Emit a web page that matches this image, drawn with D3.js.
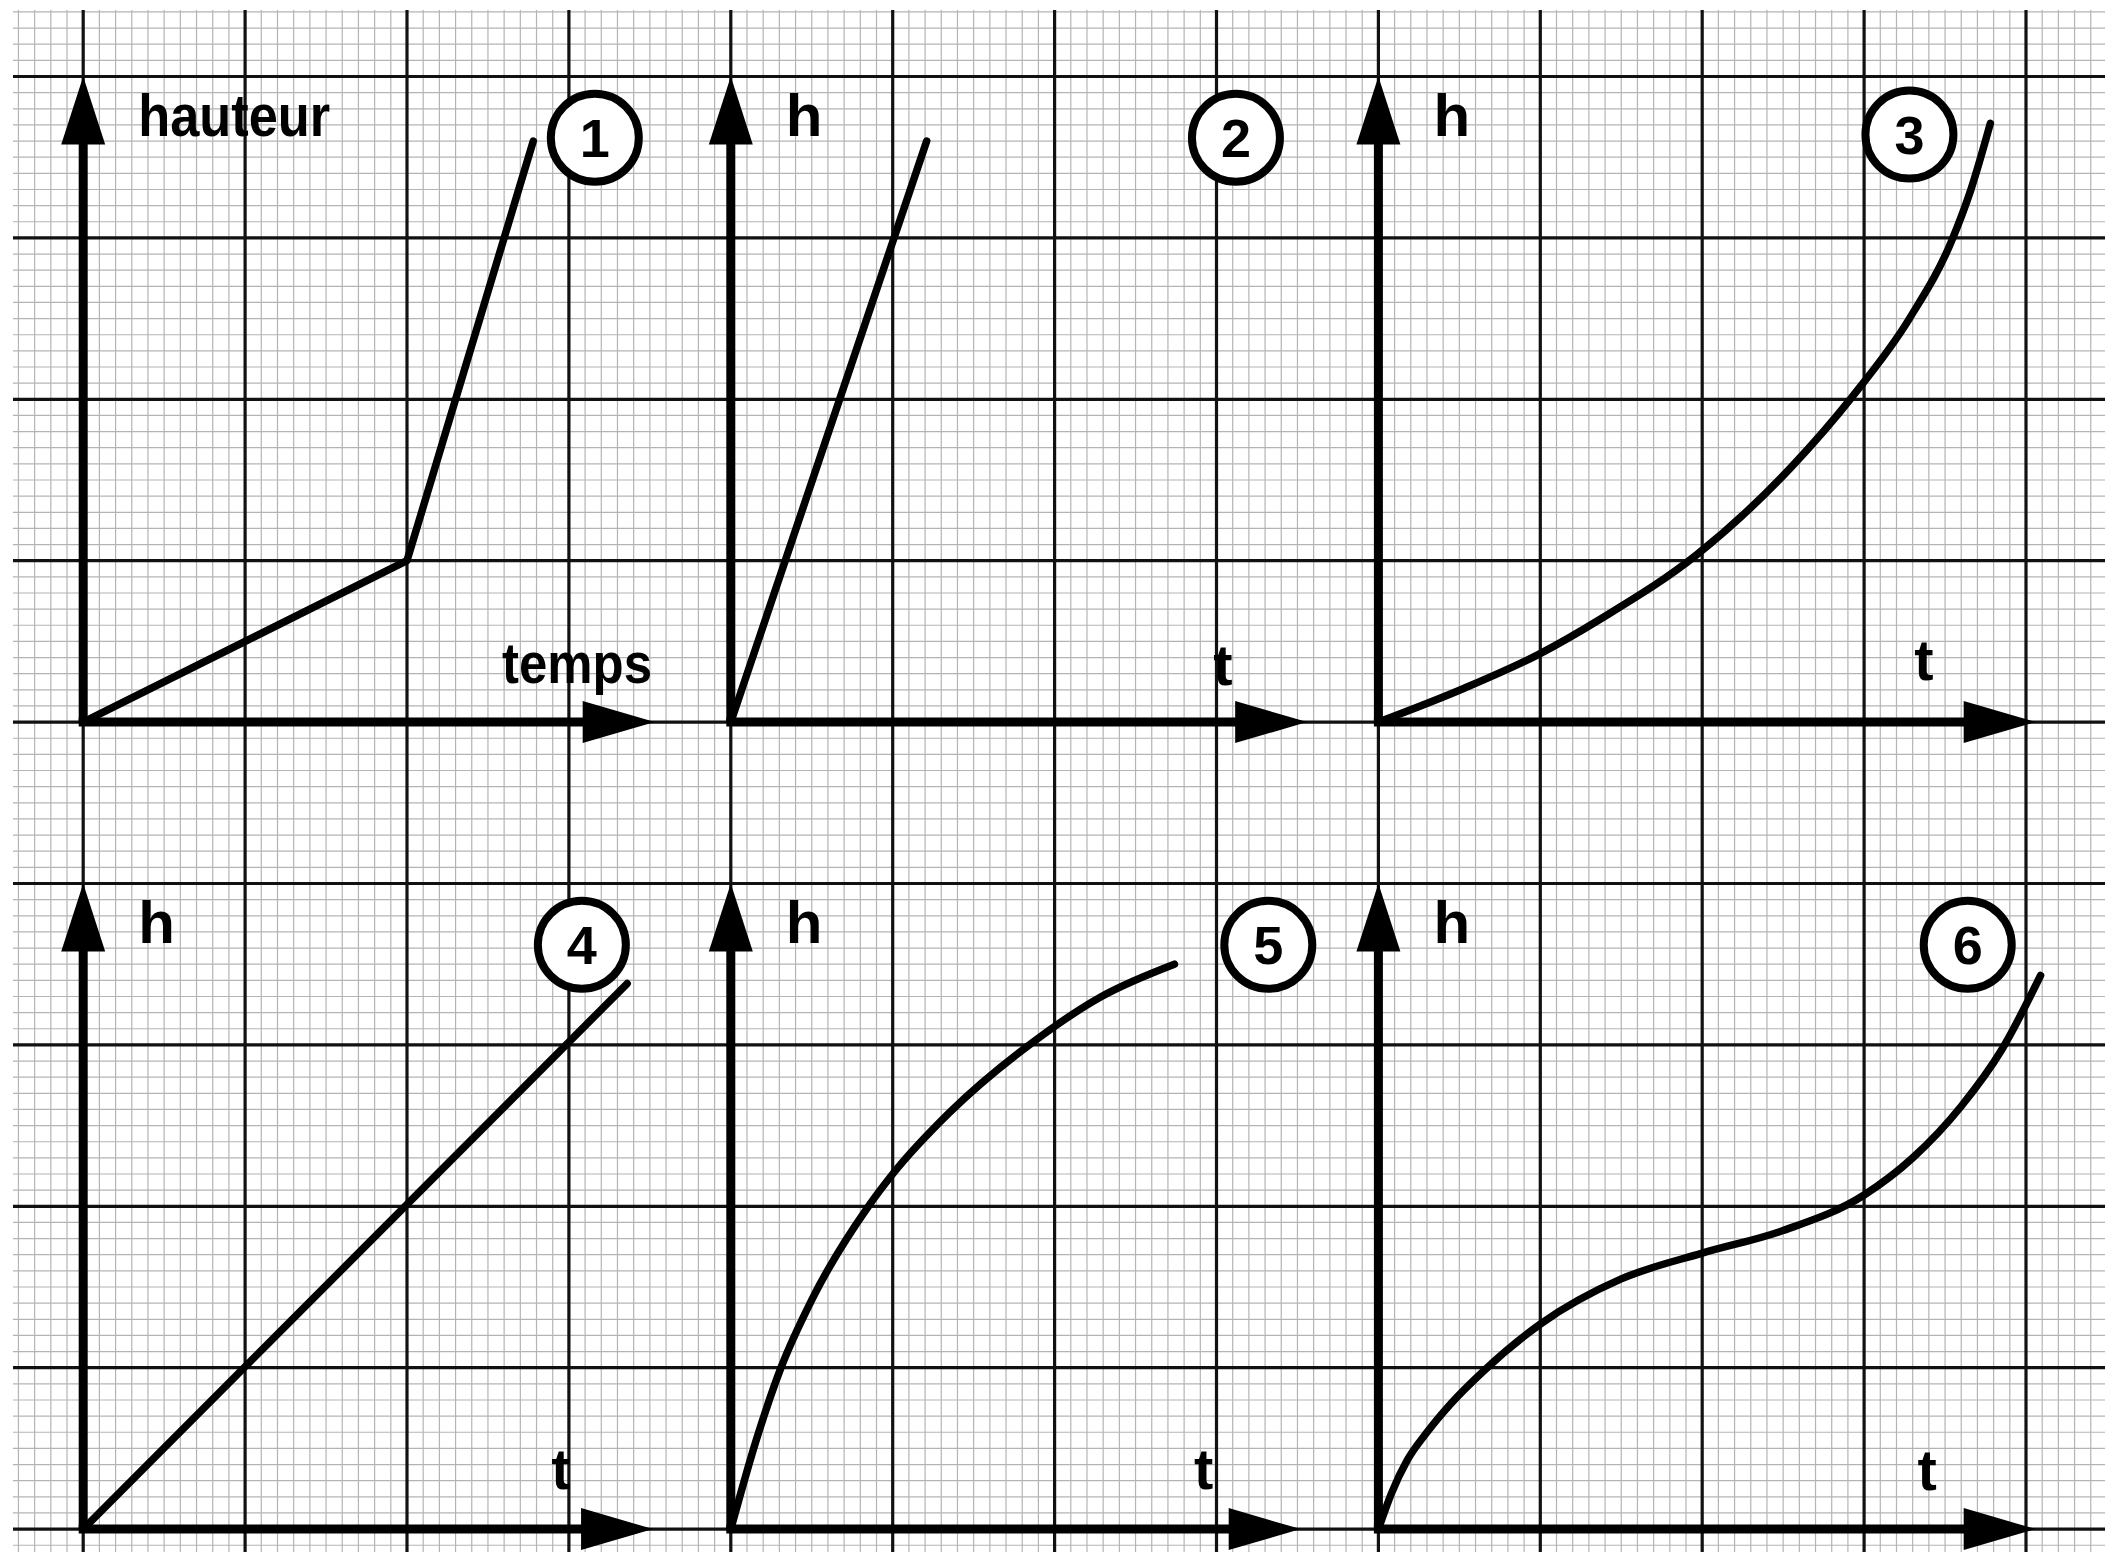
<!DOCTYPE html>
<html>
<head>
<meta charset="utf-8">
<script src="https://cdn.jsdelivr.net/npm/d3@7"></script>
<style>
  html, body { margin: 0; padding: 0; background: #fff; }
  svg { display: block; }
  text { font-family: "Liberation Sans", Arial, Helvetica, sans-serif; font-weight: bold; fill: #000; }
</style>
</head>
<body>
<svg id="chart"></svg>
<script>
const W = 2105, H = 1558;

// curves, in grid units (1 unit = one major square), from each panel's origin
const curve1 = [[0, 0], [2, 1], [2.78, 3.6]];
const curve2 = [[0, 0], [1.21, 3.6]];
const curve3 = [[0, 0], [0.53, 0.21], [0.99, 0.42], [1.39, 0.65], [1.97, 1.04], [2.55, 1.58],
                [2.93, 2.02], [3.28, 2.5], [3.54, 2.98], [3.66, 3.3], [3.78, 3.71]];
const curve4 = [[0, 0], [3.36, 3.38]];
const curve5 = [[0, 0], [0.16, 0.56], [0.31, 1.0], [0.5, 1.42], [0.85, 2.0], [1.0, 2.2],
                [1.35, 2.58], [1.87, 3.02], [2.29, 3.3], [2.74, 3.5]];
const curve6 = [[0, 0], [0.08, 0.22], [0.18, 0.43], [0.3, 0.6], [0.45, 0.78], [0.65, 0.98],
                [1.0, 1.27], [1.5, 1.55], [2.0, 1.71], [2.5, 1.85], [3.0, 2.07], [3.3, 2.3],
                [3.6, 2.62], [3.85, 2.97], [4.09, 3.43]];

const curves = [curve1, curve2, curve3, curve4, curve5, curve6];
const smooth = [false, false, true, false, true, true];
const numbers = ["1", "2", "3", "4", "5", "6"];
const yLabels = ["hauteur", "h", "h", "h", "h", "h"];
const xLabels = ["temps", "t", "t", "t", "t", "t"];
const xAxisEnd = [3.53, 3.56, 4.06, 3.52, 3.52, 4.06];
const yAxisEnd = [4, 4, 4, 4, 4, 4];

// layout (grid column/row of each origin, label and badge placement in units)
const originCol = [0, 4, 8, 0, 4, 8];
const originRow = [4, 4, 4, 9, 9, 9];
const badgePos = [[3.16, 3.62], [3.12, 3.62], [3.28, 3.64], [3.08, 3.62], [3.32, 3.62], [3.64, 3.62]];
const tLabelPos = [[3.05, 0.24], [3.04, 0.23], [3.37, 0.26], [2.95, 0.25], [2.92, 0.25], [3.39, 0.24]];

const svg = d3.select("#chart").attr("width", W).attr("height", H);
svg.append("rect").attr("width", W).attr("height", H).attr("fill", "#fff");

// graph paper: one unit = one major line, 10 minors per unit
const gx = d3.scaleLinear().domain([0, 12]).range([83.2, 83.2 + 12 * 161.9]);
const gy = d3.scaleLinear().domain([0, 9]).range([76.5, 76.5 + 9 * 161.4]);
const xMin = gx.invert(13), xMax = gx.invert(W);
const yMin = gy.invert(10), yMax = gy.invert(1552);

const minorX = d3.range(Math.ceil(xMin * 10), Math.floor(xMax * 10) + 1).map(d => d / 10);
const minorY = d3.range(Math.ceil(yMin * 10), Math.floor(yMax * 10) + 1).map(d => d / 10);

const grid = svg.append("g").attr("class", "grid");
grid.selectAll("line.vminor")
  .data(minorX.filter(d => Math.round(d * 10) % 10 !== 0))
  .join("line")
  .attr("x1", d => gx(d)).attr("x2", d => gx(d))
  .attr("y1", gy(yMin)).attr("y2", gy(yMax))
  .attr("stroke", "#b4b4b4").attr("stroke-width", 1.2);
grid.selectAll("line.hminor")
  .data(minorY.filter(d => Math.round(d * 10) % 10 !== 0))
  .join("line")
  .attr("x1", gx(xMin)).attr("x2", gx(xMax))
  .attr("y1", d => gy(d)).attr("y2", d => gy(d))
  .attr("stroke", "#b4b4b4").attr("stroke-width", 1.2);

const majorX = minorX.filter(d => Math.round(d * 10) % 10 === 0);
const majorY = minorY.filter(d => Math.round(d * 10) % 10 === 0);
grid.selectAll("line.vmajor")
  .data(majorX)
  .join("line")
  .attr("x1", d => gx(d)).attr("x2", d => gx(d))
  .attr("y1", gy(yMin)).attr("y2", gy(yMax))
  .attr("stroke", "#111").attr("stroke-width", 3.2);
grid.selectAll("line.hmajor")
  .data(majorY)
  .join("line")
  .attr("x1", gx(xMin)).attr("x2", gx(xMax))
  .attr("y1", d => gy(d)).attr("y2", d => gy(d))
  .attr("stroke", "#111").attr("stroke-width", 3.2);

// the six little graphs
curves.forEach(function(data, i) {
  const x = d3.scaleLinear().domain([0, 1]).range([gx(originCol[i]), gx(originCol[i] + 1)]);
  const y = d3.scaleLinear().domain([0, 1]).range([gy(originRow[i]), gy(originRow[i] - 1)]);
  const g = svg.append("g").attr("class", "panel p" + (i + 1));

  const ox = x(0), oy = y(0);
  const yTip = y(yAxisEnd[i]), xTip = x(xAxisEnd[i]);
  const headLen = 68, headHalf = 22;

  // axes
  g.append("line")
    .attr("x1", ox).attr("y1", oy).attr("x2", ox).attr("y2", yTip + headLen - 2)
    .attr("stroke", "#000").attr("stroke-width", 9);
  g.append("line")
    .attr("x1", ox - 4.5).attr("y1", oy).attr("x2", xTip - headLen + 2).attr("y2", oy)
    .attr("stroke", "#000").attr("stroke-width", 9);
  g.append("path")
    .attr("d", `M${ox},${yTip} L${ox - headHalf},${yTip + headLen} L${ox + headHalf},${yTip + headLen} Z`)
    .attr("fill", "#000");
  g.append("path")
    .attr("d", `M${xTip},${oy} L${xTip - headLen - 4},${oy - headHalf + 1} L${xTip - headLen - 4},${oy + headHalf - 1} Z`)
    .attr("fill", "#000");

  // curve
  const line = d3.line()
    .x(d => x(d[0])).y(d => y(d[1]))
    .curve(smooth[i] ? d3.curveMonotoneX : d3.curveLinear);
  g.append("path")
    .datum(data)
    .attr("d", line)
    .attr("fill", "none")
    .attr("stroke", "#000")
    .attr("stroke-width", 7.5)
    .attr("stroke-linejoin", "round")
    .attr("stroke-linecap", "round");

  // labels
  const yl = g.append("text")
    .attr("x", x(0.34)).attr("y", y(3.63))
    .attr("font-size", 60)
    .text(yLabels[i]);
  if (yLabels[i].length > 1) yl.attr("textLength", 192).attr("lengthAdjust", "spacingAndGlyphs");

  const xl = g.append("text")
    .attr("x", x(tLabelPos[i][0])).attr("y", y(tLabelPos[i][1]))
    .attr("text-anchor", "middle")
    .attr("font-size", 58)
    .text(xLabels[i]);
  if (xLabels[i].length > 1) xl.attr("textLength", 150).attr("lengthAdjust", "spacingAndGlyphs");

  // circled number
  const bx = x(badgePos[i][0]), by = y(badgePos[i][1]);
  g.append("ellipse")
    .attr("cx", bx).attr("cy", by).attr("rx", 44).attr("ry", 44)
    .attr("fill", "#fff").attr("stroke", "#000").attr("stroke-width", 8);
  g.append("text")
    .attr("x", bx).attr("y", by)
    .attr("dy", "0.36em")
    .attr("text-anchor", "middle")
    .attr("font-size", 54)
    .text(numbers[i]);
});
</script>
</body>
</html>
